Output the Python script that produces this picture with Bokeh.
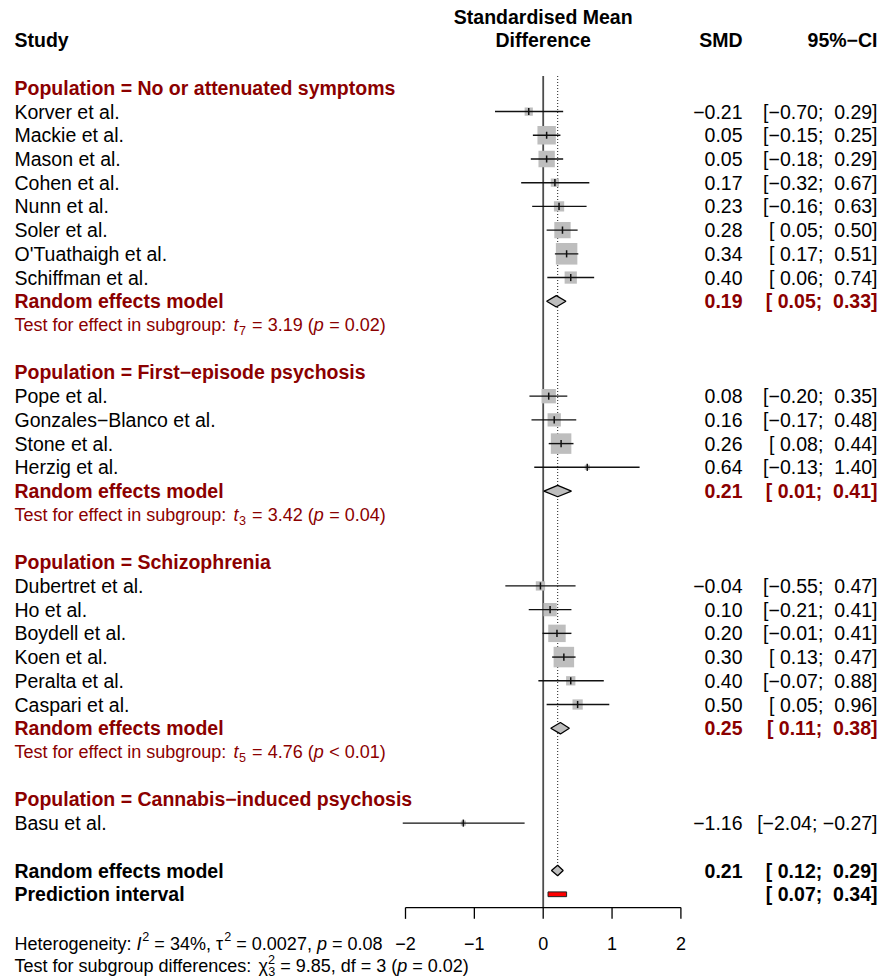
from bokeh.plotting import figure
from bokeh.models import Range1d, ColumnDataSource
from bokeh.core.properties import value
from bokeh.embed import file_html
from bokeh.resources import INLINE
import math

# ---------------- data ----------------
group_labels = ["No or attenuated symptoms", "First\u2212episode psychosis",
                "Schizophrenia", "Cannabis\u2212induced psychosis"]
study_names = ["Korver et al.", "Mackie et al.", "Mason et al.", "Cohen et al.",
               "Nunn et al.", "Soler et al.", "O'Tuathaigh et al.", "Schiffman et al.",
               "Pope et al.", "Gonzales\u2212Blanco et al.", "Stone et al.", "Herzig et al.",
               "Dubertret et al.", "Ho et al.", "Boydell et al.", "Koen et al.",
               "Peralta et al.", "Caspari et al.",
               "Basu et al."]
study_group = [0, 0, 0, 0, 0, 0, 0, 0, 1, 1, 1, 1, 2, 2, 2, 2, 2, 2, 3]
study_smd = [-0.21, 0.05, 0.05, 0.17, 0.23, 0.28, 0.34, 0.40,
             0.08, 0.16, 0.26, 0.64,
             -0.04, 0.10, 0.20, 0.30, 0.40, 0.50,
             -1.16]
study_lo = [-0.70, -0.15, -0.18, -0.32, -0.16, 0.05, 0.17, 0.06,
            -0.20, -0.17, 0.08, -0.13,
            -0.55, -0.21, -0.01, 0.13, -0.07, 0.05,
            -2.04]
study_hi = [0.29, 0.25, 0.29, 0.67, 0.63, 0.50, 0.51, 0.74,
            0.35, 0.48, 0.44, 1.40,
            0.47, 0.41, 0.41, 0.47, 0.88, 0.96,
            -0.27]
study_weight = [1.8, 9.0, 7.1, 1.8, 2.8, 7.1, 12.3, 4.0,
                5.5, 4.7, 11.2, 0.7,
                2.3, 4.7, 8.1, 11.2, 2.3, 2.8,
                0.7]

sub_smd = [0.19, 0.21, 0.25]
sub_lo = [0.05, 0.01, 0.11]
sub_hi = [0.33, 0.41, 0.38]
sub_df = [7, 3, 5]
sub_t = [3.19, 3.42, 4.76]
sub_p_rel = ["=", "=", "<"]
sub_p = [0.02, 0.04, 0.01]

overall_smd, overall_lo, overall_hi = 0.21, 0.12, 0.29
pred_lo, pred_hi = 0.07, 0.34
het_I2, het_tau2, het_p = 34, 0.0027, 0.08
subdiff_Q, subdiff_df, subdiff_p = 9.85, 3, 0.02
x_ticks = [-2, -1, 0, 1, 2]

# ---------------- layout ----------------
FONT = "Liberation Sans"
BIG = 19.5
SMALL = 18.0
TICK = 18.0
DARKRED = "#8B0000"
BLACK = "#000000"

W_FIG, H_FIG = 879, 979
ROW_PX = 23.72
ROW0_FP = 87.3          # pixel y of row 0
PPU = 68.85             # pixels per SMD unit
ZERO_FP = 542.7         # pixel x of SMD = 0

XL = -ZERO_FP / PPU
XR = XL + W_FIG / PPU
YT = -ROW0_FP / ROW_PX
YB = YT + H_FIG / ROW_PX


def X(px):
    return (px - ZERO_FP) / PPU


p = figure(width=W_FIG, height=H_FIG, x_range=Range1d(XL, XR), y_range=Range1d(YB, YT),
           x_axis_type=None, y_axis_type=None, output_backend="svg",
           toolbar_location=None, min_border=0, outline_line_color=None,
           background_fill_color="white", border_fill_color="white")

LEFT = X(14)
SMD_R = X(742)
CI_R = X(877)

# character widths (Arial / Liberation Sans metrics, per 1000 em)
WID = {' ': 278, '\u00a0': 278, '%': 889, '(': 333, ')': 333, ',': 278, '.': 278, ':': 278,
       ';': 278, '=': 584, '<': 584, '\u2212': 584, 'τ': 450, 'χ': 500}
for c in "0123456789":
    WID[c] = 556
for c, w in zip("abcdefghijklmnopqrstuvwxyz",
                [556, 556, 500, 556, 556, 278, 556, 556, 222, 222, 500, 222, 833,
                 556, 556, 556, 556, 333, 500, 278, 556, 500, 722, 500, 500, 500]):
    WID[c] = w
for c, w in zip("ABCDEFGHIJKLMNOPQRSTUVWXYZ",
                [667, 667, 722, 722, 667, 611, 778, 722, 278, 500, 667, 556, 833,
                 722, 778, 667, 778, 722, 667, 611, 722, 667, 944, 667, 667, 611]):
    WID[c] = w


def twidth(s, size):
    return sum(WID.get(c, 556) for c in s) / 1000.0 * size


def text(xs, ys, ts, size, color, style="normal", align="left"):
    src = ColumnDataSource(dict(x=xs, y=ys, t=ts))
    p.text("x", "y", "t", source=src, text_font=value(FONT),
           text_font_size=value(f"{size}px"), text_font_style=style,
           text_color=color, text_align=align, text_baseline="middle")


def rich(x_px, row, pieces, size, color):
    """pieces: (text, font style, mode, extra gap before in px)"""
    cur = x_px
    for txt, style, mode, gap in pieces:
        cur += gap
        sc, dy = 1.0, 0.0
        if mode in ("sup", "supstack"):
            sc, dy = 0.7, -0.38 * size
        elif mode == "sub":
            sc, dy = 0.7, 0.30 * size
        text([X(cur)], [row + dy / ROW_PX], [txt], size * sc, color, style)
        if mode != "supstack":
            cur += twidth(txt, size * sc)


def smd_fmt(v):
    return ("\u2212" if v < 0 else "") + f"{abs(v):.2f}"


def ci_part(v):
    return ("\u2212" if v < 0 else "\u00a0") + f"{abs(v):.2f}"


def ci_fmt(lo, hi):
    return "[" + ci_part(lo) + ";\u00a0" + ci_part(hi) + "]"


def tick_fmt(v):
    return ("\u2212" if v < 0 else "") + f"{abs(v):g}"


# ---------------- row assignment ----------------
n_groups = len(group_labels)
header_rows, study_rows, sub_rows, test_rows = [], [0] * len(study_names), [], []
r = 0
for g in range(n_groups):
    header_rows.append(r)
    r += 1
    for i, sg in enumerate(study_group):
        if sg == g:
            study_rows[i] = r
            r += 1
    if g < len(sub_smd):
        sub_rows.append(r)
        r += 1
        test_rows.append(r)
        r += 1
    r += 1
overall_row = r
pred_row = r + 1
axis_row = pred_row + 0.56
top_row = -0.5

# ---------------- reference lines ----------------
p.segment(x0=[0], y0=[top_row], x1=[0], y1=[axis_row], line_color="#4D4D4D", line_width=1.8)
p.segment(x0=[overall_smd], y0=[top_row], x1=[overall_smd], y1=[overall_row - 0.25],
          line_color="#333333", line_width=1.1, line_dash="1 2")

# ---------------- studies ----------------
sizes = [max(4.5, 21.5 * math.sqrt(w / max(study_weight))) for w in study_weight]
p.scatter(x=study_smd, y=study_rows, size=sizes, marker="square",
          fill_color="#BEBEBE", line_color=None)
p.segment(x0=study_lo, y0=study_rows, x1=study_hi, y1=study_rows,
          line_color="#111111", line_width=1.4)
p.segment(x0=study_smd, y0=[y - 0.15 for y in study_rows], x1=study_smd,
          y1=[y + 0.15 for y in study_rows], line_color="#111111", line_width=1.5)

# subgroup diamonds
DH = 0.24
p.patches(xs=[[lo, m, hi, m] for lo, m, hi in zip(sub_lo, sub_smd, sub_hi)],
          ys=[[y, y - DH, y, y + DH] for y in sub_rows],
          fill_color="#BEBEBE", line_color="#000000", line_width=1.3)
# overall diamond
p.patches(xs=[[overall_lo, overall_smd, overall_hi, overall_smd]],
          ys=[[overall_row, overall_row - 0.22, overall_row, overall_row + 0.22]],
          fill_color="#BEBEBE", line_color="#000000", line_width=1.3)
# prediction interval
p.quad(left=[pred_lo], right=[pred_hi], top=[pred_row - 0.1], bottom=[pred_row + 0.1],
       fill_color="#FF0000", line_color="#222222", line_width=1.0)

# ---------------- axis ----------------
tick_bottom = axis_row + 11.3 / ROW_PX
p.segment(x0=[min(x_ticks)], y0=[axis_row], x1=[max(x_ticks)], y1=[axis_row],
          line_color="#000000", line_width=1.3)
p.segment(x0=x_ticks, y0=[axis_row] * len(x_ticks), x1=x_ticks,
          y1=[tick_bottom] * len(x_ticks), line_color="#000000", line_width=1.3)
text(x_ticks, [axis_row + 36 / ROW_PX] * len(x_ticks), [tick_fmt(t) for t in x_ticks],
     TICK, BLACK, align="center")

# ---------------- column headers ----------------
text([LEFT], [-2], ["Study"], BIG, BLACK, "bold")
text([0, 0], [-3, -2], ["Standardised Mean", "Difference"], BIG, BLACK, "bold", "center")
text([SMD_R], [-2], ["SMD"], BIG, BLACK, "bold", "right")
text([CI_R], [-2], ["95%\u2212CI"], BIG, BLACK, "bold", "right")

# ---------------- left / right text ----------------
text([LEFT] * n_groups, header_rows, ["Population = " + g for g in group_labels],
     BIG, DARKRED, "bold")
text([LEFT] * len(study_names), study_rows, study_names, BIG, BLACK)
text([SMD_R] * len(study_smd), study_rows, [smd_fmt(v) for v in study_smd], BIG, BLACK,
     align="right")
text([CI_R] * len(study_smd), study_rows, [ci_fmt(a, b) for a, b in zip(study_lo, study_hi)],
     BIG, BLACK, align="right")

text([LEFT] * len(sub_rows), sub_rows, ["Random effects model"] * len(sub_rows), BIG, DARKRED, "bold")
text([SMD_R] * len(sub_rows), sub_rows, [smd_fmt(v) for v in sub_smd], BIG, DARKRED, "bold", "right")
text([CI_R] * len(sub_rows), sub_rows, [ci_fmt(a, b) for a, b in zip(sub_lo, sub_hi)],
     BIG, DARKRED, "bold", "right")

for row, df, t, rel, pv in zip(test_rows, sub_df, sub_t, sub_p_rel, sub_p):
    rich(14, row, [("Test for effect in subgroup:\u00a0", "normal", "n", 0),
                   ("t", "italic", "n", 0),
                   (str(df), "normal", "sub", 0.5),
                   (f"\u00a0=\u00a0{t:.2f}\u00a0(", "normal", "n", 1.0),
                   ("p", "italic", "n", 0),
                   (f"\u00a0{rel}\u00a0{pv:.2f})", "normal", "n", 0.5)],
         SMALL, DARKRED)

text([LEFT, LEFT], [overall_row, pred_row], ["Random effects model", "Prediction interval"],
     BIG, BLACK, "bold")
text([SMD_R], [overall_row], [smd_fmt(overall_smd)], BIG, BLACK, "bold", "right")
text([CI_R, CI_R], [overall_row, pred_row],
     [ci_fmt(overall_lo, overall_hi), ci_fmt(pred_lo, pred_hi)], BIG, BLACK, "bold", "right")

# ---------------- footer ----------------
het_row = axis_row + 36 / ROW_PX
sub_row2 = het_row + 22.5 / ROW_PX
rich(14, het_row, [("Heterogeneity:\u00a0", "normal", "n", 0),
                   ("I", "italic", "n", 0),
                   ("2", "normal", "sup", 0.8),
                   (f"\u00a0=\u00a0{het_I2}%,\u00a0", "normal", "n", 0),
                   ("τ", "normal", "n", 0),
                   ("2", "normal", "sup", 0.3),
                   (f"\u00a0=\u00a0{het_tau2:.4f},\u00a0", "normal", "n", 0),
                   ("p", "italic", "n", 0),
                   (f"\u00a0=\u00a0{het_p:.2f}", "normal", "n", 0)],
     SMALL, BLACK)
rich(14, sub_row2, [("Test for subgroup differences:\u00a0", "normal", "n", 0),
                    ("χ", "normal", "n", 0),
                    ("2", "normal", "supstack", 0.3),
                    (str(subdiff_df), "normal", "sub", 0.3),
                    (f"\u00a0=\u00a0{subdiff_Q:.2f},\u00a0df\u00a0=\u00a0{subdiff_df}\u00a0(", "normal", "n", 0),
                    ("p", "italic", "n", 0),
                    (f"\u00a0=\u00a0{subdiff_p:.2f})", "normal", "n", 0)],
     SMALL, BLACK)

open("out.html", "w").write(file_html(p, INLINE))
